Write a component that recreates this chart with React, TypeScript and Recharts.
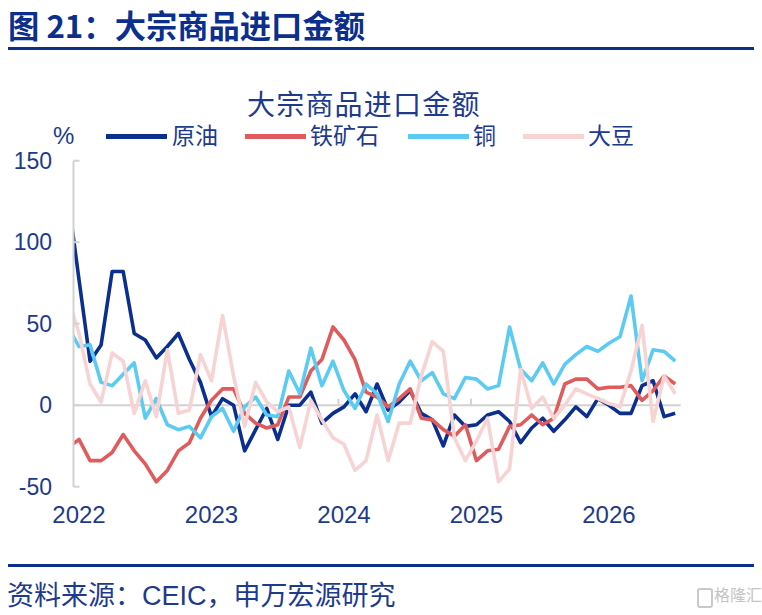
import { LineChart, Line, XAxis, YAxis, ReferenceLine } from 'recharts'

// month index: -1 = 2021-12 (clipped by the axis), 0 = 2022-01 ... 54 = 2026-07
const monthIdx = [
  -1, 0, 1, 2, 3, 4, 5, 6, 7, 8, 9, 10, 11, 12, 13, 14, 15, 16, 17, 18, 19, 20, 21, 22, 23, 24, 25, 26,
  27, 28, 29, 30, 31, 32, 33, 34, 35, 36, 37, 38, 39, 40, 41, 42, 43, 44, 45, 46, 47, 48, 49, 50, 51,
  52, 53, 54,
]

const crudeOil = [
  128, 77, 27, 37, 82, 82, 44, 40, 29, 36, 44, 28, 14, -7, 4, 0, -28, -15, -2, -21, 0, 0, 8, -11, -5, -1,
  7, -4, 13, -3, 2, 9, -5, -9, -25, -6, -13, -12, -6, -4, -10, -23, -14, -8, -16, -9, -1, -7, 4, 0, -5,
  -5, 12, 15, -7, -5,
]

const ironOre = [
  -26, -21, -34, -34, -29, -18, -28, -36, -47, -40, -28, -23, -8, 3, 10, 10, -5, -11, -14, -12, 5, 5, 21,
  28, 48, 40, 28, 8, 5, -1, 4, 10, -8, -9, -15, -19, -12, -34, -28, -27, -13, -12, -6, -12, -8, 13, 16, 16,
  10, 11, 11, 12, 3, 9, 18, 13,
]

const copper = [
  48, 36, 37, 14, 12, 19, 26, -8, 4, -12, -15, -13, -20, -7, -2, -16, -1, 5, -6, -7, 21, 7, 35, 12, 27, 9,
  -2, 13, 7, -10, 13, 27, 15, 20, 7, 4, 17, 16, 10, 12, 48, 22, 15, 26, 13, 25, 31, 36, 33, 38, 42, 67, 15,
  34, 33, 27,
]

const soybean = [
  66, 44, 13, 2, 32, 27, -5, 15, -7, 34, -5, -3, 31, 15, 55, 18, -13, 14, 2, -4, -1, -26, 3, -9, -20, -24,
  -40, -34, -6, -34, -11, -11, 18, 39, 33, -20, -34, -22, -8, -47, -39, 22, -2, 5, -8, 0, 10, 7, 4, 1, -1,
  21, 49, -10, 18, 7,
]

const yearLabels = ['2022', '2023', '2024', '2025', '2026']
const yearTicks = [0, 12, 24, 36, 48]
const yearBounds = [11.5, 23.5, 35.5, 47.5]
const yTicks = [-50, 0, 50, 100, 150]

const series = [
  { key: 'oil', name: '原油', color: '#0B2F8E' },
  { key: 'iron', name: '铁矿石', color: '#E05C5C' },
  { key: 'copper', name: '铜', color: '#5CCBF4' },
  { key: 'soy', name: '大豆', color: '#F7D3D3' },
]

const rows = monthIdx.map((t, i) => ({
  t,
  oil: crudeOil[i],
  iron: ironOre[i],
  copper: copper[i],
  soy: soybean[i],
}))

const FONT = '"Liberation Sans", "Noto Sans CJK SC", sans-serif'
const TEXT = '#1E3A8A'
const AXIS = '#D2D2D2'

const legendPos = [
  { line: 106, text: 172 },
  { line: 245, text: 310 },
  { line: 408, text: 473 },
  { line: 523, text: 588 },
]

export default function App() {
  return (
    <div style={{ position: 'absolute', left: 0, top: 0, width: 762, height: 615, background: '#fff', fontFamily: FONT, overflow: 'hidden' }}>
      <div style={{ position: 'absolute', left: 8, top: 9, fontSize: 31.3, lineHeight: '32px', fontWeight: 700, color: '#0C2F8C', fontFamily: '"Noto Sans CJK SC", sans-serif', whiteSpace: 'nowrap' }}>
        图 21：大宗商品进口金额
      </div>
      <div style={{ position: 'absolute', left: 8, top: 47, width: 746, height: 3, background: '#0C2F8C' }} />

      <div style={{ position: 'absolute', left: 247, top: 92, fontSize: 28, lineHeight: '28px', letterSpacing: 1.2, color: TEXT, whiteSpace: 'nowrap' }}>
        大宗商品进口金额
      </div>

      <div style={{ position: 'absolute', left: 53, top: 124, fontSize: 24, lineHeight: '24px', color: TEXT }}>%</div>
      {series.map((s, i) => (
        <div key={s.key}>
          <div style={{ position: 'absolute', left: legendPos[i].line, top: 134, width: 61, height: 5, background: s.color }} />
          <div style={{ position: 'absolute', left: legendPos[i].text, top: 125, fontSize: 23, lineHeight: '23px', color: TEXT, whiteSpace: 'nowrap' }}>
            {s.name}
          </div>
        </div>
      ))}

      <LineChart
        width={762}
        height={615}
        data={rows}
        margin={{ top: 160.7, right: 81.3, bottom: 98.3, left: 0 }}
        style={{ position: 'absolute', left: 0, top: 0, fontFamily: FONT }}
      >
        <XAxis
          type="number"
          dataKey="t"
          domain={[-0.5, 54.5]}
          allowDataOverflow
          ticks={yearTicks}
          interval={0}
          tickFormatter={(v) => yearLabels[Math.round(Number(v) / 12)]}
          axisLine={false}
          tickLine={false}
          tickSize={0}
          tickMargin={19}
          height={30}
          tick={{ fill: TEXT, fontSize: 24 }}
        />
        <YAxis
          type="number"
          domain={[-50, 150]}
          ticks={yTicks}
          interval={0}
          width={73.5}
          axisLine={{ stroke: AXIS, strokeWidth: 2 }}
          tickLine={{ stroke: AXIS, strokeWidth: 2 }}
          tickSize={-6}
          tickMargin={27.5}
          tick={{ fill: TEXT, fontSize: 23 }}
        />
        <ReferenceLine y={0} stroke={AXIS} strokeWidth={2} />
        {yearBounds.map((b) => (
          <ReferenceLine
            key={b}
            segment={[
              { x: b, y: 0 },
              { x: b, y: 4 },
            ]}
            stroke={AXIS}
            strokeWidth={2}
          />
        ))}
        {series.map((s) => (
          <Line
            key={s.key}
            type="linear"
            dataKey={s.key}
            name={s.name}
            stroke={s.color}
            strokeWidth={3.6}
            strokeLinejoin="round"
            dot={false}
            activeDot={false}
            isAnimationActive={false}
          />
        ))}
      </LineChart>

      <div style={{ position: 'absolute', left: 8, top: 564, width: 746, height: 3, background: '#0C2F8C' }} />
      <div style={{ position: 'absolute', left: 7, top: 582, fontSize: 27, lineHeight: '28px', color: TEXT, whiteSpace: 'nowrap' }}>
        资料来源：CEIC，申万宏源研究
      </div>
      <div style={{ position: 'absolute', left: 697, top: 588, width: 12, height: 16, border: '2px solid #C9C9C9', borderRadius: 3 }} />
      <div style={{ position: 'absolute', left: 714, top: 587, fontSize: 16, lineHeight: '18px', color: '#C4C4C4', whiteSpace: 'nowrap' }}>
        格隆汇
      </div>
    </div>
  )
}
